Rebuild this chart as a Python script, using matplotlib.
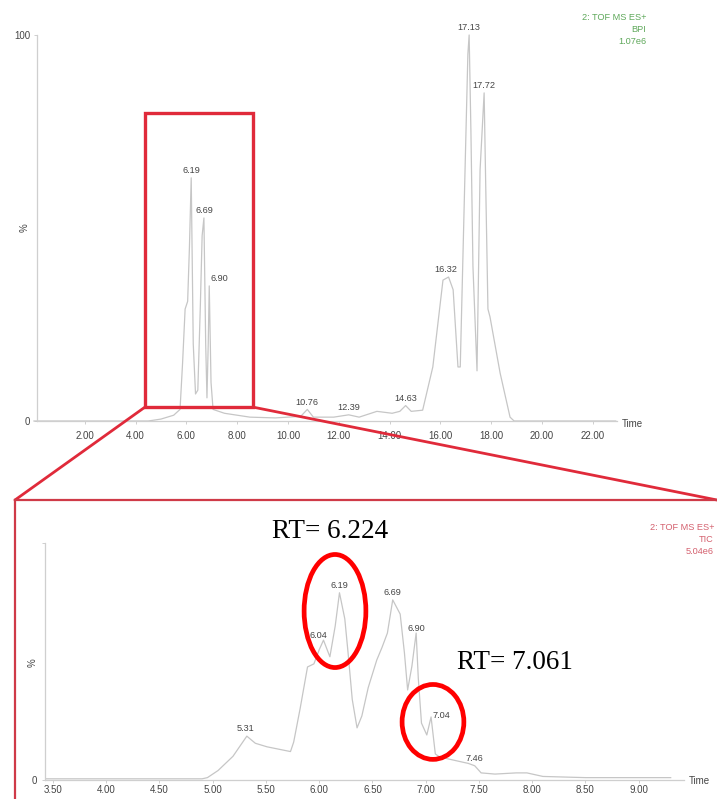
import matplotlib
matplotlib.use("Agg")
import matplotlib.pyplot as plt
from matplotlib.lines import Line2D
from matplotlib.patches import Rectangle, Ellipse, ConnectionPatch

# ---------------- data ----------------
# Full chromatogram (BPI), time in min, intensity in %
top_time = [0.0, 4.5, 5.0, 5.5, 5.75, 5.85, 5.95, 6.05, 6.12, 6.19, 6.27, 6.36,
            6.45, 6.55, 6.62, 6.69, 6.76, 6.81, 6.86, 6.90, 6.97, 7.05, 7.5, 8.0,
            8.5, 9.5, 10.5, 10.76, 11.0, 11.8, 12.39, 12.8, 13.5, 14.1, 14.4,
            14.63, 14.85, 15.3, 15.7, 16.1, 16.32, 16.5, 16.69, 16.78, 16.95,
            17.08, 17.13, 17.2, 17.28, 17.44, 17.56, 17.72, 17.78, 17.87, 17.95,
            18.35, 18.74, 18.9, 19.2, 22.9]
top_int = [0, 0, 0.5, 1.5, 3, 15, 29, 31, 45, 63, 20, 7,
           8, 30, 48, 52.6, 20, 6, 20, 35, 10, 3, 2, 1.5,
           1, 0.8, 1.2, 3, 1, 1, 1.6, 1, 2.5, 2, 2.5,
           4, 2.5, 2.8, 14, 36.5, 37.3, 34, 14, 14, 60,
           95, 100, 75, 40, 13, 65, 85, 62, 29, 27,
           12.4, 1, 0, 0, 0]
top_peak_t = [6.19, 6.69, 6.90, 10.76, 12.39, 14.63, 16.32, 17.13, 17.72]
top_peak_v = [63, 52.6, 35, 3, 1.6, 4, 37.3, 100, 85]
top_peak_lbl = ["6.19", "6.69", "6.90", "10.76", "12.39", "14.63", "16.32", "17.13", "17.72"]
top_xticks = [2, 4, 6, 8, 10, 12, 14, 16, 18, 20, 22]

# Zoomed chromatogram (TIC)
bot_time = [3.40, 4.90, 4.95, 5.05, 5.19, 5.32, 5.40, 5.51, 5.73, 5.76, 5.82,
            5.89, 5.95, 6.00, 6.04, 6.10, 6.15, 6.19, 6.24, 6.27, 6.31, 6.355,
            6.40, 6.46, 6.54, 6.59, 6.64, 6.69, 6.76, 6.80, 6.83, 6.87, 6.91,
            6.93, 6.96, 7.01, 7.05, 7.09, 7.13, 7.26, 7.40, 7.46, 7.52, 7.65,
            7.85, 7.95, 8.10, 8.50, 9.30]
bot_int = [0.5, 0.5, 1, 4, 10, 18.5, 15.5, 14, 12, 16, 30,
           47.7, 49, 55, 59, 52, 65, 79, 68, 54, 34, 22,
           27, 39, 50.6, 56, 62, 76, 70, 53.6, 38, 48, 62,
           43, 24, 19, 26.6, 11, 9.7, 8.4, 7, 6, 3, 2.5,
           3, 3, 1.5, 1, 1]
bot_peak_t = [5.31, 6.04, 6.19, 6.69, 6.90, 7.04, 7.46]
bot_peak_v = [18.5, 59, 79, 76, 62, 26.6, 6]
bot_peak_lbl = ["5.31", "6.04", "6.19", "6.69", "6.90", "7.04", "7.46"]
bot_xticks = [3.5, 4.0, 4.5, 5.0, 5.5, 6.0, 6.5, 7.0, 7.5, 8.0, 8.5, 9.0]

rt_values = [6.224, 7.061]

# ---------------- figure ----------------
W, H = 717, 799
fig = plt.figure(figsize=(W / 100, H / 100), dpi=100)
fig.patch.set_facecolor("white")

def fx(x):
    return x / W

def fy(y):
    return 1 - y / H

FONT = "Liberation Sans"
TRACE = "#c6c6c6"
AXC = "#cfcfcf"
TXT = "#454545"
RED = "#e02a3a"

def style_axes(ax):
    for s in ["top", "right"]:
        ax.spines[s].set_visible(False)
    for s in ["left", "bottom"]:
        ax.spines[s].set_color(AXC)
        ax.spines[s].set_linewidth(0.9)
    ax.tick_params(axis="both", colors=AXC, labelcolor=TXT, labelsize=7,
                   length=2, width=0.7)
    for lab in ax.get_xticklabels() + ax.get_yticklabels():
        lab.set_fontfamily(FONT)
    ax.patch.set_alpha(0)

# ---- top axes ----
ax1 = fig.add_axes([fx(37), fy(421), (617 - 37) / W, (421 - 35) / H])
ax1.plot(top_time, top_int, color=TRACE, lw=0.9, clip_on=False)
ax1.set_xlim(0.12, 22.95)
ax1.set_ylim(0, 100)
ax1.set_xticks(top_xticks)
ax1.set_xticklabels([f"{t:.2f}" for t in top_xticks])
ax1.set_yticks([0, 100])
ax1.set_yticklabels(["0", "100"])
ax1.tick_params(axis="x", pad=5)
ax1.tick_params(axis="y", pad=3)
style_axes(ax1)
ax1.text(fx(25), fy(228), "%", transform=fig.transFigure, rotation=90,
         fontsize=7, color=TXT, family=FONT, ha="center", va="center")
ax1.text(fx(622), fy(424), "Time", transform=fig.transFigure,
         fontsize=7, color=TXT, family=FONT, ha="left", va="center")
top_dx = [0, 0, 7, 0, 0, 0, -2, 0, 0]
for t, v, lbl, dx in zip(top_peak_t, top_peak_v, top_peak_lbl, top_dx):
    ax1.annotate(lbl, xy=(t, v), xytext=(dx, 2), textcoords="offset points",
                 ha="center", va="bottom", fontsize=6.6, color=TXT, family=FONT,
                 annotation_clip=False)
for i, line in enumerate(["2: TOF MS ES+", "BPI", "1.07e6"]):
    fig.text(fx(646), fy(17 + 12 * i), line, fontsize=6.6, color="#5ea85a",
             family=FONT, ha="right", va="center")

# zoom box on top chart
box_x0, box_x1, box_y0, box_y1 = 4.37, 8.62, 3.6, 79.8
ax1.add_patch(Rectangle((box_x0, box_y0), box_x1 - box_x0, box_y1 - box_y0,
                        fill=False, ec=RED, lw=2.4, clip_on=False, zorder=5))

# ---- bottom axes ----
ax2 = fig.add_axes([fx(45), fy(780), (684 - 45) / W, (780 - 543) / H])
ax2.plot(bot_time, bot_int, color=TRACE, lw=0.9)
ax2.set_xlim(3.425, 9.425)
ax2.set_ylim(0, 100)
ax2.set_xticks(bot_xticks)
ax2.set_xticklabels([f"{t:.2f}" for t in bot_xticks])
ax2.set_yticks([0, 100])
ax2.set_yticklabels(["0", ""])
ax2.tick_params(axis="x", pad=1.5)
ax2.tick_params(axis="y", pad=4)
style_axes(ax2)
ax2.spines["bottom"].set_linestyle((0, (2, 1)))
fig.text(fx(33), fy(663), "%", rotation=90, fontsize=7, color=TXT,
         family=FONT, ha="center", va="center")
fig.text(fx(689), fy(781), "Time", fontsize=7, color=TXT, family=FONT,
         ha="left", va="center")
bot_dx = [0, -4, 0, 0, 1, 8, 0]
bot_dy = [2, 0, 2, 2, 0, -2, 2]
for t, v, lbl, dx, dy in zip(bot_peak_t, bot_peak_v, bot_peak_lbl, bot_dx, bot_dy):
    ax2.annotate(lbl, xy=(t, v), xytext=(dx, dy), textcoords="offset points",
                 ha="center", va="bottom", fontsize=6.6, color=TXT, family=FONT,
                 annotation_clip=False)
for i, line in enumerate(["2: TOF MS ES+", "TIC", "5.04e6"]):
    fig.text(fx(714), fy(527 + 12.5 * i), line, fontsize=6.6, color="#d4606e",
             family=FONT, ha="right", va="center")

# ellipses highlighting the peaks of interest
ax2.add_patch(Ellipse((6.148, 71.3), 0.58, 47.7, fill=False, ec="#ff0000",
                      lw=3.4, zorder=6, clip_on=False))
ax2.add_patch(Ellipse((7.068, 24.5), 0.58, 31.6, fill=False, ec="#ff0000",
                      lw=3.4, zorder=6, clip_on=False))
fig.text(fx(330), fy(538), f"RT= {rt_values[0]:.3f}", fontsize=19.5,
         family="Liberation Serif", color="black", ha="center", va="baseline")
fig.text(fx(515), fy(669), f"RT= {rt_values[1]:.3f}", fontsize=19.5,
         family="Liberation Serif", color="black", ha="center", va="baseline")

# frame of the zoom panel and connector lines
FR = "#cf3a48"
fig.add_artist(Line2D([fx(15), fx(717)], [fy(500), fy(500)], transform=fig.transFigure,
                      color=FR, lw=1.6))
fig.add_artist(Line2D([fx(15), fx(15)], [fy(500), fy(799)], transform=fig.transFigure,
                      color=FR, lw=1.6))
for (bx, fxp) in [(box_x0, 15), (box_x1, 717)]:
    con = ConnectionPatch(xyA=(bx, box_y0), coordsA=ax1.transData,
                          xyB=(fx(fxp), fy(500)), coordsB=fig.transFigure,
                          color=RED, lw=2.0)
    fig.add_artist(con)

fig.savefig("out.png", dpi=100, facecolor="white")
